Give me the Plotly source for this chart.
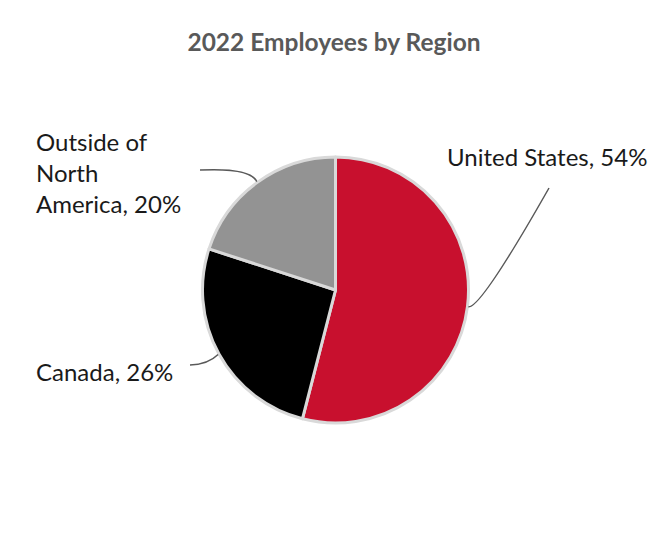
import math
import plotly.graph_objects as go

# Data
regions = ["United States", "Canada", "Outside of North America"]
label_text = ["United States, 54%", "Canada, 26%", "Outside of<br>North<br>America, 20%"]
shares = [54, 26, 20]
colors = ["#C8102E", "#000000", "#939393"]

W, H = 670, 550
cx, cy, r = 335.5, 290, 133  # pie geometry in pixels

def px(x):
    return x / W

def py(y):
    return 1 - y / H

fig = go.Figure(go.Pie(
    labels=regions,
    values=shares,
    sort=False,
    direction="clockwise",
    rotation=0,
    marker=dict(colors=colors, line=dict(color="#D9D9D9", width=3)),
    textinfo="none",
    hoverinfo="label+percent",
    showlegend=False,
    domain=dict(x=[px(cx - r), px(cx + r)], y=[py(cy + r), py(cy - r)]),
))

# label positions (layout) and leader line end points
label_pos = [
    dict(x=445, y=157, xanchor="left", yanchor="middle"),
    dict(x=34, y=371, xanchor="left", yanchor="middle"),
    dict(x=34, y=172, xanchor="left", yanchor="middle"),
]
line_end = [(549, 188), (190, 365), (200, 170)]

shapes = []
total = sum(shares)
cum = 0
for i, v in enumerate(shares):
    mid = (cum + v / 2) / total * 2 * math.pi
    cum += v
    ax = cx + (r + 1) * math.sin(mid)
    ay = cy - (r + 1) * math.cos(mid)
    ex, ey = line_end[i]
    if i == 0:
        qx, qy = ax + 12, ay + 2
    elif i == 1:
        qx, qy = ax - 10, ay + 10
    else:
        qx, qy = ax - 6, ay - 14
    path = f"M {px(ax)},{py(ay)} Q {px(qx)},{py(qy)} {px(ex)},{py(ey)}"
    shapes.append(dict(type="path", xref="paper", yref="paper", path=path,
                       line=dict(color="#595959", width=1.5)))
    lp = label_pos[i]
    fig.add_annotation(text=label_text[i], xref="paper", yref="paper",
                       x=px(lp["x"]), y=py(lp["y"]), xanchor=lp["xanchor"],
                       yanchor=lp["yanchor"], showarrow=False, align="left",
                       font=dict(family="Lato, sans-serif", size=24, color="#1a1a1a"))

fig.update_layout(
    width=W, height=H,
    margin=dict(l=0, r=0, t=0, b=0),
    paper_bgcolor="white",
    plot_bgcolor="white",
    shapes=shapes,
    title=dict(text="<b>2022 Employees by Region</b>", x=334 / W, xanchor="center",
               y=py(42), yanchor="middle",
               font=dict(family="Lato, sans-serif", size=24.5, color="#595959")),
)

fig.write_html("out.html", config={"displayModeBar": False},
               post_script="document.body.style.margin='0';")
